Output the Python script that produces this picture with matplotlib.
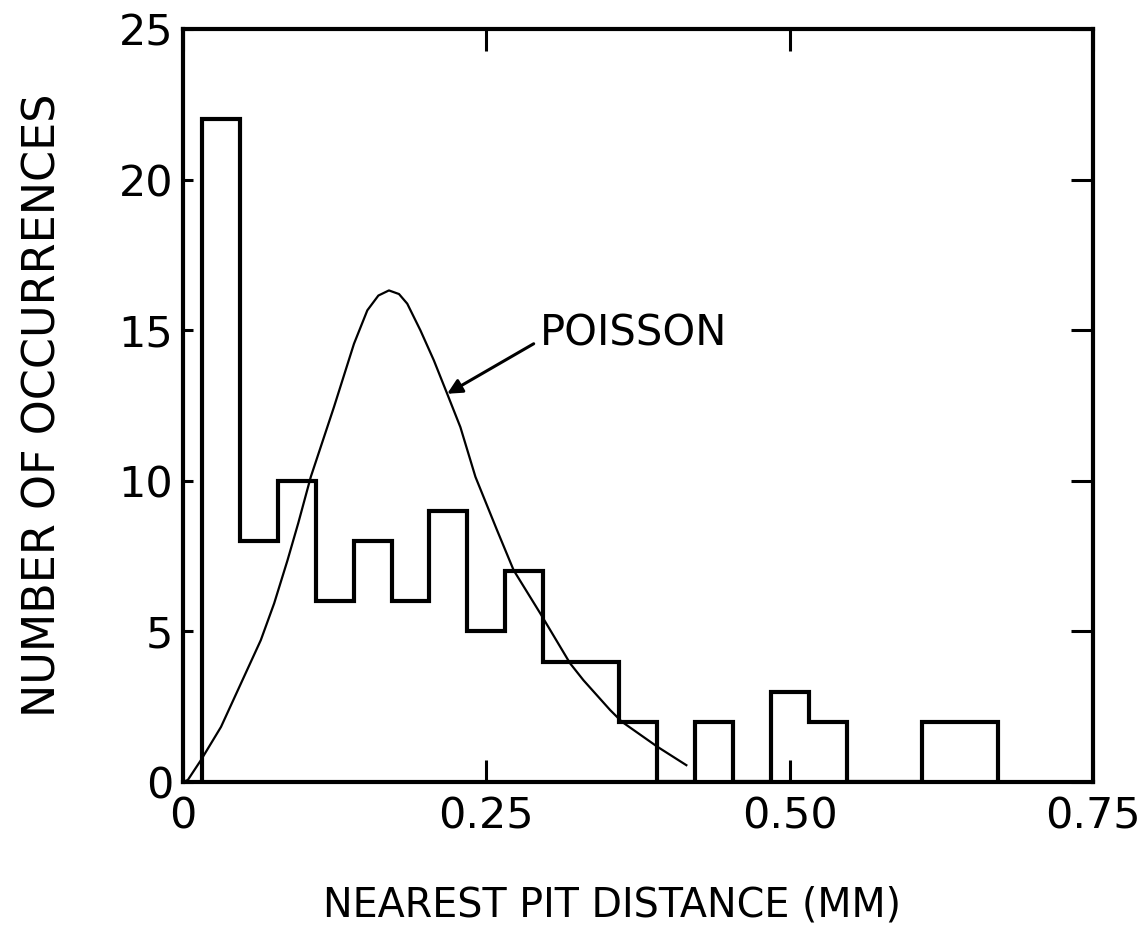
import numpy as np
import matplotlib.pyplot as plt

# histogram: bins of 1/32 mm, first edge at 0.5/32
bin_width = 1 / 32
counts = [22, 8, 10, 6, 8, 6, 9, 5, 7, 4, 4, 2, 0, 2, 0, 3, 2, 0, 0, 2, 2]
edges = (np.arange(len(counts) + 1) + 0.5) * bin_width

# poisson curve
poisson_x = [0.0, 0.004, 0.0148, 0.0313, 0.0477, 0.0641, 0.0751, 0.0861, 0.0950,
             0.1053, 0.1244, 0.1409, 0.1519, 0.1610, 0.1697, 0.1780, 0.1848, 0.1957,
             0.2067, 0.2177, 0.2286, 0.2410, 0.2588, 0.2725, 0.2944, 0.3190, 0.3300,
             0.3520, 0.3617, 0.3910, 0.4148]
poisson_y = [0.0, 0.07, 0.73, 1.83, 3.27, 4.71, 5.93, 7.36, 8.60,
             10.13, 12.45, 14.55, 15.66, 16.15, 16.32, 16.20, 15.88, 14.99,
             14.0, 12.89, 11.78, 10.13, 8.36, 7.03, 5.6, 3.94, 3.38,
             2.39, 2.0, 1.17, 0.56]

xticks = [0, 0.25, 0.50, 0.75]
xtick_labels = ['0', '0.25', '0.50', '0.75']
yticks = [0, 5, 10, 15, 20, 25]

plt.rcParams['font.family'] = ['DejaVu Sans']

fig = plt.figure(figsize=(11.41, 9.34), dpi=100)
ax = fig.add_axes([0.1604, 0.1627, 0.958 - 0.1604, 0.969 - 0.1627])

ax.stairs(counts, edges, baseline=0, color='black', linewidth=3.0)
ax.plot(poisson_x, poisson_y, color='black', linewidth=1.6)

ax.annotate('', xy=(0.2177, 12.89), xytext=(0.289, 14.55),
            arrowprops=dict(arrowstyle='-|>', color='black', lw=2.2,
                            mutation_scale=22, shrinkA=0, shrinkB=0))
ax.text(0.294, 14.9, 'POISSON', fontsize=30, ha='left', va='center')

ax.set_xlim(0, 0.75)
ax.set_ylim(0, 25)
ax.set_xticks(xticks)
ax.set_xticklabels(xtick_labels)
ax.set_yticks(yticks)

for side in ax.spines.values():
    side.set_linewidth(3.0)

ax.tick_params(direction='in', width=2.2, length=16, top=True, right=True,
               labelsize=31)
ax.tick_params(axis='x', pad=10)
ax.tick_params(axis='y', pad=7)
for t in ax.yaxis.get_major_ticks():
    t.tick1line.set_markersize(7)

ax.set_xlabel('NEAREST PIT DISTANCE (MM)', fontsize=28.5)
ax.xaxis.set_label_coords(0.471, -0.137)
ax.set_ylabel('NUMBER OF OCCURRENCES', fontsize=32, labelpad=39)

fig.savefig('out.png', dpi=100)
